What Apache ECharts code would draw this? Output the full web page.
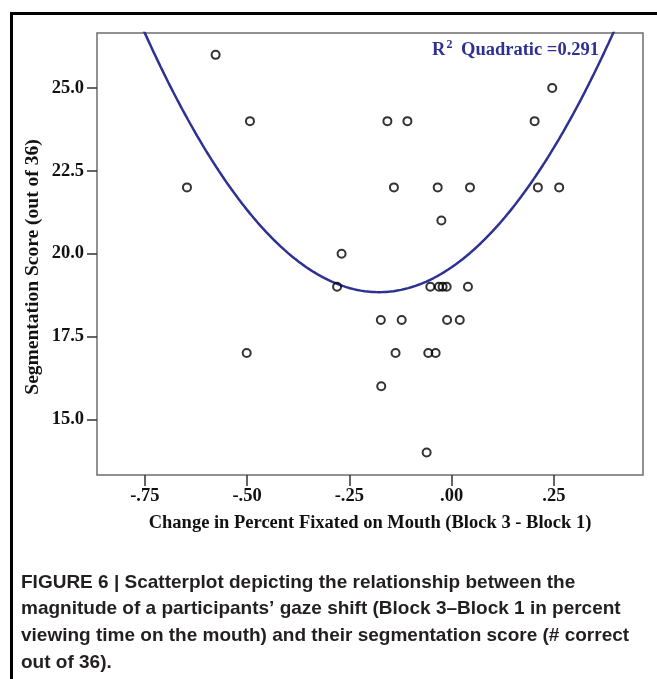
<!DOCTYPE html>
<html>
<head>
<meta charset="utf-8">
<script src="https://cdn.jsdelivr.net/npm/echarts@6/dist/echarts.min.js"></script>
<style>
html,body{margin:0;padding:0;background:#fff;}
#chart{width:657px;height:679px;}
</style>
</head>
<body>
<div id="chart"></div>
<script>
// Change in percent fixated on mouth (Block 3 - Block 1)
const gazeShift = [
  -0.577, 0.246,
  -0.493, -0.157, -0.108, 0.203,
  -0.647, -0.141, -0.034, 0.045, 0.211, 0.263,
  -0.025,
  -0.269,
  -0.280, -0.052, -0.031, -0.022, -0.012, 0.040,
  -0.173, -0.122, -0.011, 0.020,
  -0.501, -0.137, -0.057, -0.039,
  -0.172,
  -0.061
];
// Segmentation score (out of 36)
const segScore = [
  26, 25,
  24, 24, 24, 24,
  22, 22, 22, 22, 22, 22,
  21,
  20,
  19, 19, 19, 19, 19, 19,
  18, 18, 18, 18,
  17, 17, 17, 17,
  16,
  14
];
// Quadratic fit: y = b0 + b1*x + b2*x^2
const fitCoefficients = [19.59, 8.47, 23.86];
const fitR2 = '0.291';

const xTickValues = [-0.75, -0.5, -0.25, 0, 0.25];
const xTickLabels = ['-.75', '-.50', '-.25', '.00', '.25'];
const yTickValues = [15, 17.5, 20, 22.5, 25];
const yTickLabels = ['15.0', '17.5', '20.0', '22.5', '25.0'];

const xMin = -0.867, xMax = 0.468;
const yMin = 13.32, yMax = 26.66;

const scatterData = gazeShift.map((x, i) => [x, segScore[i]]);
const fitData = [];
const nSteps = 300;
for (let i = 0; i <= nSteps; i++) {
  const x = xMin + (xMax - xMin) * i / nSteps;
  fitData.push([x, fitCoefficients[0] + fitCoefficients[1] * x + fitCoefficients[2] * x * x]);
}

const serif = "'Liberation Serif','Times New Roman',serif";
const sans = "'Liberation Sans',Arial,Helvetica,sans-serif";
const navy = '#2e3192';

const chart = echarts.init(document.getElementById('chart'), null, {renderer: 'canvas'});
chart.setOption({
  animation: false,
  backgroundColor: '#fff',
  grid: {
    left: 97, top: 33, right: 14, bottom: 204,
    show: true, borderColor: '#6d6d6d', borderWidth: 1.5, backgroundColor: '#fff'
  },
  xAxis: {
    type: 'value', min: xMin, max: xMax,
    splitLine: {show: false},
    axisLine: {show: false, onZero: false},
    axisTick: {show: true, customValues: xTickValues, length: 11, inside: false,
      lineStyle: {color: '#333', width: 1.5}},
    axisLabel: {customValues: xTickValues, margin: 12,
      formatter: v => { const i = xTickValues.findIndex(t => Math.abs(t - v) < 1e-9); return i >= 0 ? xTickLabels[i] : ''; },
      color: '#111', fontFamily: serif, fontWeight: 'bold', fontSize: 18.5},
    name: 'Change in Percent Fixated on Mouth (Block 3 - Block 1)',
    nameLocation: 'middle', nameGap: 39,
    nameTextStyle: {color: '#111', fontFamily: serif, fontWeight: 'bold', fontSize: 18.5}
  },
  yAxis: {
    type: 'value', min: yMin, max: yMax,
    splitLine: {show: false},
    axisLine: {show: false, onZero: false},
    axisTick: {show: true, customValues: yTickValues, length: 10,
      lineStyle: {color: '#333', width: 1.5}},
    axisLabel: {customValues: yTickValues, margin: 13,
      formatter: v => { const i = yTickValues.findIndex(t => Math.abs(t - v) < 1e-9); return i >= 0 ? yTickLabels[i] : ''; },
      color: '#111', fontFamily: serif, fontWeight: 'bold', fontSize: 18.5}
  },
  series: [
    {
      type: 'line', data: fitData, showSymbol: false, symbol: 'none', clip: true,
      lineStyle: {color: navy, width: 2.5}, z: 2, silent: true
    },
    {
      type: 'scatter', data: scatterData, symbol: 'circle', symbolSize: 8,
      itemStyle: {color: 'rgba(0,0,0,0)', borderColor: '#000', borderWidth: 2}, z: 3
    }
  ],
  graphic: [
    {
      type: 'rect', left: 9, top: 11, silent: true,
      shape: {x: 0, y: 0, width: 720, height: 720},
      style: {fill: 'none', stroke: '#000', lineWidth: 3}
    },
    {
      type: 'text', x: 33, y: 267, rotation: Math.PI / 2, z: 10,
      style: {
        text: 'Segmentation Score (out of 36)',
        fontFamily: serif, fontWeight: 'bold', fontSize: 19.5, fill: '#111',
        align: 'center', verticalAlign: 'middle'
      }
    },
    {
      type: 'text', right: 58, top: 39, z: 10,
      style: {
        text: '{r|R}{s|2}{r| Quadratic =' + fitR2 + '}',
        rich: {
          r: {fontFamily: serif, fontWeight: 'bold', fontSize: 18.5, fill: navy, lineHeight: 21, verticalAlign: 'bottom'},
          s: {fontFamily: serif, fontWeight: 'bold', fontSize: 12, fill: navy, lineHeight: 21, verticalAlign: 'top', padding: [0, 4, 0, 1]}
        }
      }
    },
    {
      type: 'text', left: 21, top: 569,
      style: {
        text: 'FIGURE 6 | Scatterplot depicting the relationship between the\nmagnitude of a participants\u2019 gaze shift (Block 3\u2013Block 1 in percent\nviewing time on the mouth) and their segmentation score (# correct\nout of 36).',
        fontFamily: sans, fontWeight: 'bold', fontSize: 19, lineHeight: 26.8, fill: '#231f20'
      }
    }
  ]
});
</script>
</body>
</html>
